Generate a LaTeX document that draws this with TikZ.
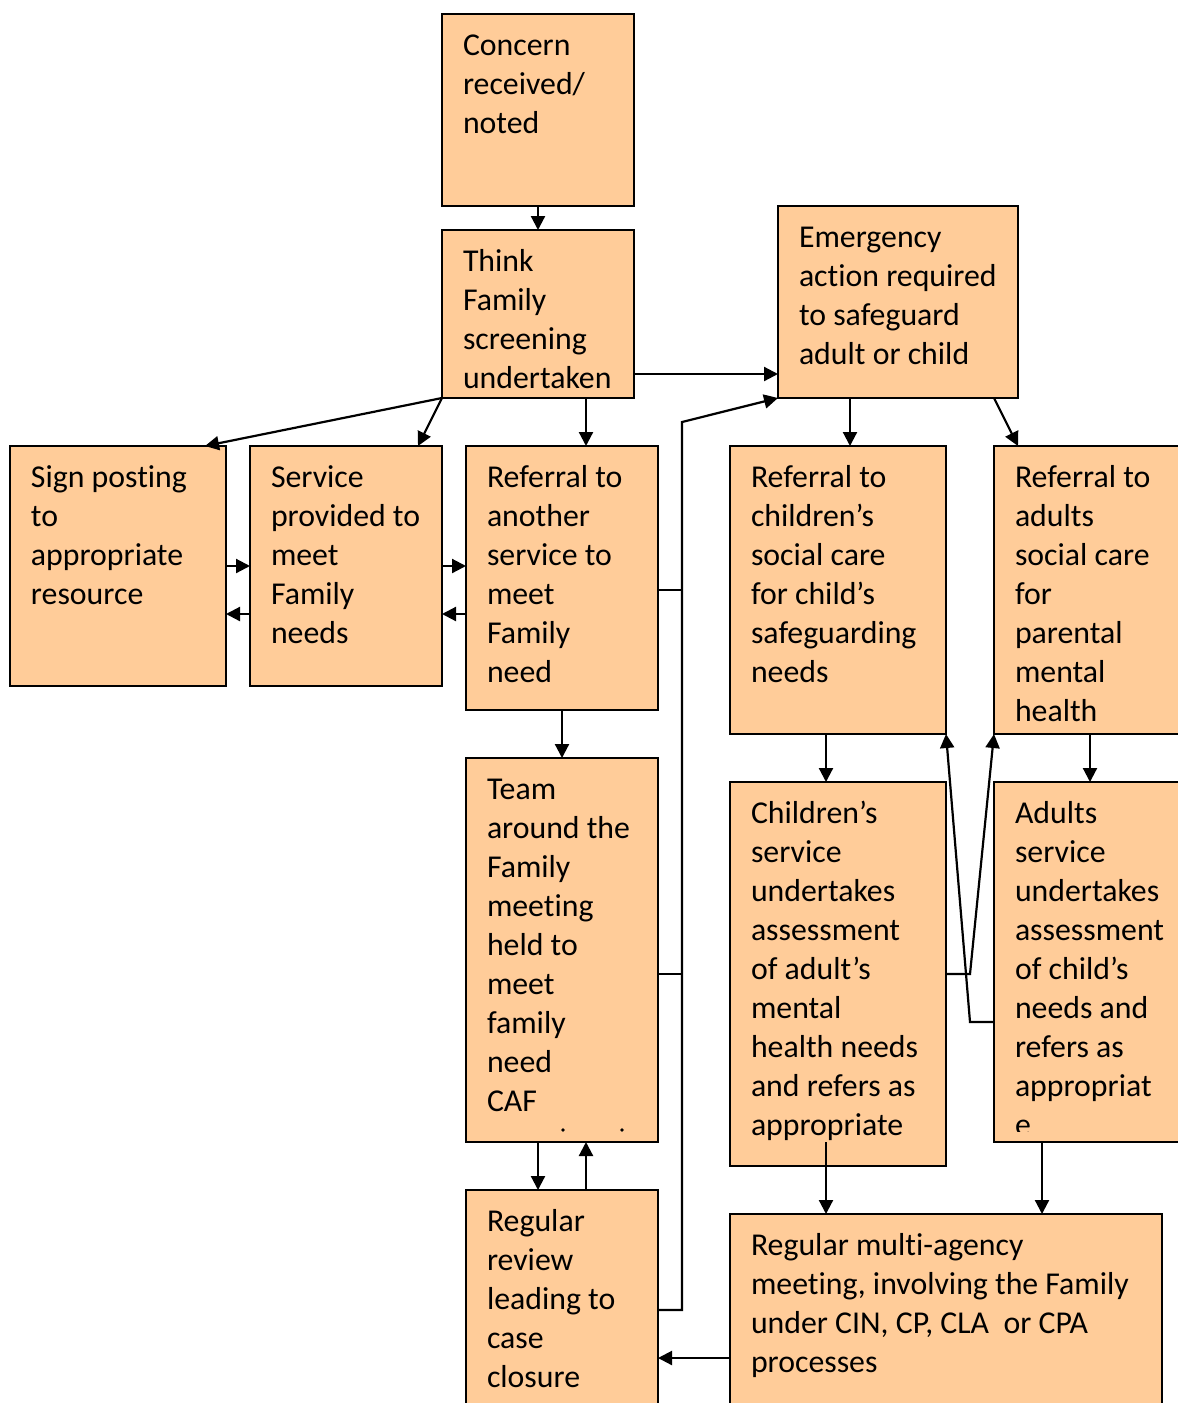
\documentclass[tikz,border=0pt]{standalone}
\usepackage{fontspec}
\setmainfont{Carlito}[Ligatures=NoCommon]
\usetikzlibrary{arrows.meta,calc}
\definecolor{peach}{RGB}{255,204,153}
\newdimen\pxu \pxu=0.5pt
\newcommand{\bt}[3]{\parbox[c][#2\pxu][t]{#1\pxu}{\raggedright\leftskip=10.5pt\rightskip=-30pt plus 1fil\rule{0pt}{20.5pt}#3}}
\tikzset{
  box/.style={draw=black, fill=peach, line width=1pt, inner sep=0pt, outer sep=0pt, anchor=north west,
    font=\fontsize{15.9pt}{19.55pt}\selectfont},
  arr/.style={line width=1.1pt, -{Triangle[length=7pt,width=7pt]}},
  ln/.style={line width=1.1pt}
}
\begin{document}
\begin{tikzpicture}[x=0.5pt,y=-0.5pt]
\useasboundingbox (0,0) rectangle (1178,1403);
\fill[white] (0,0) rectangle (1178,1403);
\node[box] (concern) at (442,14) {\bt{192}{192}{Concern\\received/\\noted}};
\node[box] (think) at (442,230) {\bt{192}{168}{Think\\Family\\screening\\undertaken}};
\node[box] (emerg) at (778,206) {\bt{240}{192}{Emergency\\action required\\to safeguard\\adult or child}};
\node[box] (sign) at (10,446) {\bt{216}{240}{Sign posting\\to\\appropriate\\resource}};
\node[box] (service) at (250,446) {\bt{192}{240}{Service\\provided to\\meet\\Family\\needs}};
\node[box] (refanother) at (466,446) {\bt{192}{264}{Referral to\\another\\service to\\meet\\Family\\need}};
\node[box] (refchild) at (730,446) {\bt{216}{288}{Referral to\\children’s\\social care\\for child’s\\safeguarding\\needs}};
\node[box] (refadult) at (994,446) {\bt{190}{288}{Referral to\\adults\\social care\\for\\parental\\mental\\health}};
\node[box] (team) at (466,758) {\bt{192}{384}{Team\\around the\\Family\\meeting\\held to\\meet\\family\\need\\CAF}};
\node[box] (chserv) at (730,782) {\bt{216}{384}{Children’s\\service\\undertakes\\assessment\\of adult’s\\mental\\health needs\\and refers as\\appropriate}};
\node[box] (adserv) at (994,782) {\bt{190}{360}{Adults\\service\\undertakes\\assessment\\of child’s\\needs and\\refers as\\appropriat\\e}};
\node[box] (review) at (466,1190) {\bt{192}{222}{Regular\\review\\leading to\\case\\closure}};
\node[box] (multi) at (730,1214) {\bt{432}{198}{Regular multi-agency\\meeting, involving the Family\\under CIN, CP, CLA\ \ or CPA\\processes}};
% clip remainder of the cut letter
\fill[peach] (996,1132) rectangle (1182,1141);
% small dots in team box
\fill (563,1130) circle (0.9pt);
\fill (622,1130) circle (0.9pt);
% connectors
\draw[arr] (concern.south) -- (think.north);
\draw[arr] (think.east |- 0,374) -- (emerg.west |- 0,374);
\draw[arr] (think.south west) -- (205,0 |- sign.north);
\draw[arr] (think.south west) -- (418,0 |- service.north);
\draw[arr] (586,0 |- think.south) -- (586,0 |- refanother.north);
\draw[arr] (sign.east |- 0,566) -- (service.west |- 0,566);
\draw[arr] (service.west |- 0,614) -- (sign.east |- 0,614);
\draw[arr] (service.east |- 0,566) -- (refanother.west |- 0,566);
\draw[arr] (refanother.west |- 0,614) -- (service.east |- 0,614);
\coordinate (bustop) at (682,422);
\coordinate (busbot) at (682,1310);
\draw[ln] (refanother.east |- 0,590) -- (bustop |- 0,590);
\draw[ln] (team.east |- 0,974) -- (bustop |- 0,974);
\draw[arr] (review.east |- busbot) -- (busbot) -- (bustop) -- (emerg.south west);
\draw[arr] (850,0 |- emerg.south) -- (850,0 |- refchild.north);
\draw[arr] (994,0 |- emerg.south) -- (1018,0 |- refadult.north);
\draw[arr] (562,0 |- refanother.south) -- (562,0 |- team.north);
\draw[arr] (826,0 |- refchild.south) -- (826,0 |- chserv.north);
\draw[arr] (1090,0 |- refadult.south) -- (1090,0 |- adserv.north);
\draw[arr] (chserv.east |- 0,974) -- (970,974) -- (refadult.south west);
\draw[arr] (adserv.west |- 0,1022) -- (970,1022) -- (refchild.south east);
\draw[arr] (538,0 |- team.south) -- (538,0 |- review.north);
\draw[arr] (586,0 |- review.north) -- (586,0 |- team.south);
\draw[arr] (826,1142) -- (826,0 |- multi.north);
\draw[arr] (1042,0 |- adserv.south) -- (1042,0 |- multi.north);
\draw[arr] (multi.west |- 0,1358) -- (review.east |- 0,1358);
\end{tikzpicture}
\end{document}
